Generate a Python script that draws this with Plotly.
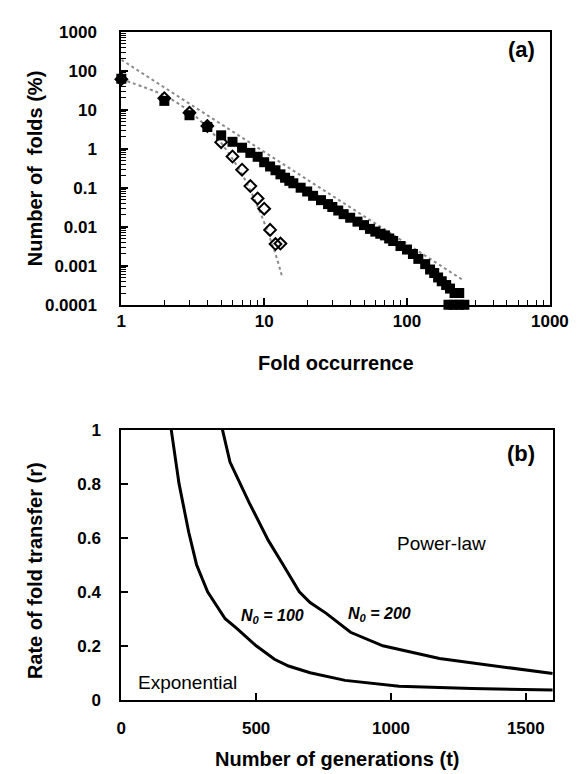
import plotly.graph_objects as go

W, H = 581, 774

# ---- panel (a): fold occurrence distribution ----
occ_all = [1, 2, 3, 4, 5, 6, 7, 8, 9, 10, 11, 12, 13, 14, 15, 16, 18, 20, 22, 25,
           28, 30, 33, 36, 40, 45, 50, 55, 60, 65, 70, 75, 80, 90, 100, 110, 120,
           134, 145, 155, 165, 175, 188, 200, 215, 232, 195, 212, 232, 252]
pct_all = [62, 16.8, 7.2, 3.6, 2.2, 1.5, 1.06, 0.78, 0.62, 0.45, 0.35, 0.28, 0.22,
           0.18, 0.15, 0.13, 0.1, 0.08, 0.062, 0.048, 0.038, 0.032, 0.026, 0.021,
           0.017, 0.0135, 0.011, 0.0088, 0.0075, 0.0066, 0.006, 0.005, 0.0043,
           0.0032, 0.0026, 0.002, 0.0015, 0.0011, 0.0008, 0.00065, 0.0005, 0.0004,
           0.00032, 0.00026, 0.0002, 0.0002, 0.0001, 0.0001, 0.0001, 0.0001]

occ_sub = [1, 2, 3, 4, 5, 6, 7, 8, 9, 10, 11, 12, 13]
pct_sub = [60, 19.6, 8.3, 3.8, 1.47, 0.63, 0.29, 0.11, 0.053, 0.029, 0.0083, 0.0036, 0.0037]

pow_fit_x = [1, 249]
pow_fit_y = [190, 0.00042]

exp_fit_x = [1, 2, 3, 4, 5, 6, 7, 8, 9, 10, 11, 12, 13, 13.3]
exp_fit_y = [60, 23, 9, 3.5, 1.4, 0.55, 0.22, 0.085, 0.033, 0.013, 0.005, 0.002, 0.00075, 0.00055]

a_xticks = [1, 10, 100, 1000]
a_xlabels = ["1", "10", "100", "1000"]
a_yticks = [1000, 100, 10, 1, 0.1, 0.01, 0.001, 0.0001]
a_ylabels = ["1000", "100", "10", "1", "0.1", "0.01", "0.001", "0.0001"]

# ---- panel (b): rate of fold transfer vs generations ----
t_n100 = [185, 214, 250, 279, 320, 385, 427, 500, 568, 620, 700, 830, 1030, 1300, 1600]
r_n100 = [1.0, 0.8, 0.62, 0.5, 0.4, 0.3, 0.265, 0.2, 0.15, 0.125, 0.1, 0.072, 0.05, 0.042, 0.036]

t_n200 = [375, 403, 474, 545, 600, 660, 700, 760, 850, 970, 1180, 1420, 1600]
r_n200 = [1.0, 0.88, 0.73, 0.59, 0.5, 0.4, 0.36, 0.32, 0.25, 0.2, 0.153, 0.12, 0.097]

b_xticks = [0, 500, 1000, 1500]
b_yticks = [0, 0.2, 0.4, 0.6, 0.8, 1]
b_ylabels = ["0", "0.2", "0.4", "0.6", "0.8", "1"]

FONT = "Liberation Sans, Arial, sans-serif"


def px(x):
    return x / W


def py(y):
    return 1 - y / H


# minor log ticks at 2..9 of every decade
def log_minor(lo, hi):
    out = []
    for e in range(lo, hi):
        out += [k * 10.0 ** e for k in range(2, 10)]
    return out


fig = go.Figure()

dot = dict(color="#8a8a8a", width=2, dash="dot")
fig.add_trace(go.Scatter(x=pow_fit_x, y=pow_fit_y, mode="lines", line=dot,
                         xaxis="x", yaxis="y"))
fig.add_trace(go.Scatter(x=exp_fit_x, y=exp_fit_y, mode="lines", line=dot,
                         line_shape="spline", xaxis="x", yaxis="y"))
fig.add_trace(go.Scatter(x=occ_all, y=pct_all, mode="markers",
                         marker=dict(symbol="square", size=10, color="black"),
                         cliponaxis=False, xaxis="x", yaxis="y"))
fig.add_trace(go.Scatter(x=occ_sub, y=pct_sub, mode="markers",
                         marker=dict(symbol="diamond-open", size=9, color="black",
                                     line=dict(width=2, color="black")),
                         cliponaxis=False, xaxis="x", yaxis="y"))

fig.add_trace(go.Scatter(x=t_n100, y=r_n100, mode="lines",
                         line=dict(color="black", width=3),
                         xaxis="x2", yaxis="y2"))
fig.add_trace(go.Scatter(x=t_n200, y=r_n200, mode="lines",
                         line=dict(color="black", width=3),
                         xaxis="x2", yaxis="y2"))

tickfont = dict(family=FONT, size=17, color="black", weight="bold")
axis_common = dict(showline=True, linecolor="black", linewidth=2, mirror=True,
                   ticks="inside", ticklen=7, tickwidth=1.5, tickcolor="black",
                   showgrid=False, zeroline=False, tickfont=tickfont)

fig.update_layout(
    width=W, height=H,
    margin=dict(l=0, r=0, t=0, b=0),
    paper_bgcolor="white", plot_bgcolor="white",
    showlegend=False,
    xaxis=dict(type="log", range=[0, 3], domain=[px(113), px(560)],
               tickmode="array", tickvals=a_xticks, ticktext=a_xlabels,
               ticklabelstandoff=0, anchor="y",
               minor=dict(tickmode="array", tickvals=log_minor(0, 3), ticks="inside",
                          ticklen=5, tickwidth=1.2, tickcolor="black", showgrid=False),
               **axis_common),
    yaxis=dict(type="log", range=[-4, 3], domain=[py(295), py(15)],
               tickmode="array", tickvals=a_yticks, ticktext=a_ylabels,
               ticklabelstandoff=19, anchor="x",
               minor=dict(tickmode="array", tickvals=log_minor(-4, 3), ticks="inside",
                          ticklen=5, tickwidth=1.2, tickcolor="black", showgrid=False),
               **axis_common),
    xaxis2=dict(range=[0, 1600], domain=[px(113), px(563)],
                tickmode="array", tickvals=b_xticks,
                ticklabelstandoff=12, anchor="y2", **axis_common),
    yaxis2=dict(range=[0, 1], domain=[py(700), py(423)],
                tickmode="array", tickvals=b_yticks, ticktext=b_ylabels,
                ticklabelstandoff=15, anchor="x2", **axis_common),
)

title_font = dict(family=FONT, size=20, color="black", weight="bold")
ann = [
    dict(text="Fold occurrence", x=px(337), y=py(355), font=title_font),
    dict(text="Number of  folds (%)", x=px(23), y=py(155), textangle=-90, font=title_font),
    dict(text="Number of generations (t)", x=px(338), y=py(761), font=title_font),
    dict(text="Rate of fold transfer (r)", x=px(23), y=py(568), textangle=-90, font=title_font),
    dict(text="(a)", x=px(530), y=py(33), font=dict(family=FONT, size=22, color="black", weight="bold")),
    dict(text="(b)", x=px(530), y=py(447), font=dict(family=FONT, size=22, color="black", weight="bold")),
    dict(text="<i>N<sub>0</sub> = 100</i>", x=px(271), y=py(615),
         font=dict(family=FONT, size=16, color="black", weight="bold")),
    dict(text="<i>N<sub>0</sub> = 200</i>", x=px(382), y=py(613),
         font=dict(family=FONT, size=16, color="black", weight="bold")),
    dict(text="Power-law", x=px(447), y=py(540),
         font=dict(family=FONT, size=19, color="black")),
    dict(text="Exponential", x=px(182), y=py(682),
         font=dict(family=FONT, size=19, color="black")),
]
for a in ann:
    a.update(xref="paper", yref="paper", showarrow=False, xanchor="center", yanchor="middle")
fig.update_layout(annotations=ann)

fig.write_html("out.html")
